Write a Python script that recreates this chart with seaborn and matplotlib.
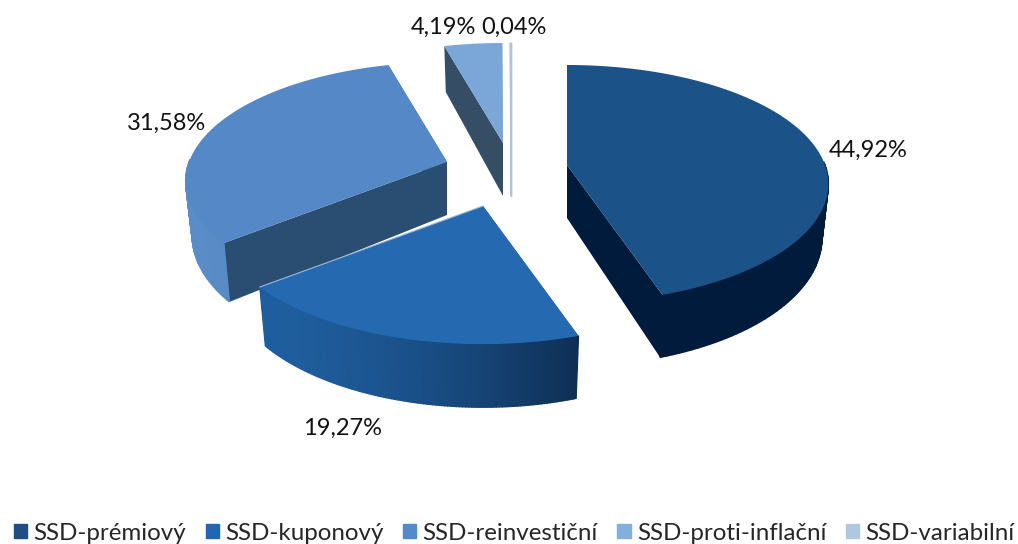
import numpy as np
import matplotlib
matplotlib.use("Agg")
import matplotlib.pyplot as plt
from matplotlib.patches import Patch
import seaborn as sns

categories = ["SSD-prémiový", "SSD-kuponový", "SSD-reinvestiční", "SSD-proti-inflační", "SSD-variabilní"]
shares = [44.92, 19.27, 31.58, 4.19, 0.04]
labels = ["44,92%", "19,27%", "31,58%", "4,19%", "0,04%"]

# layout, all in pixels of the 1018x544 picture
CX, CY = 500, 165
RX, RY = 258, 116
PERSP = 0.16
DEPTH = 53
BOTTOM_SHRINK = 0.975
explode_dx = [67, -17, -53, 3, 11]
explode_dy = [0, 41, -3, -22, -22]
label_x = [868, 343, 167, 443, 514]
label_y = [150, 428, 123, 27, 27]
draw_order = [3, 4, 2, 0, 1]

top_colors = ["#1B5288", "#256AB1", "#5588C6", "#7BA6D8", "#AEC4DE"]
wall_colors = ["#011B3C", "#123F72", "#2A4E72", "#364D66", "#AEC4DE"]
rim_left = ["#011B3C", "#1F5E9E", "#5A8CC8", "#7BA6D8", "#AEC4DE"]
rim_right = ["#011B3C", "#0E2F55", "#4273AC", "#7BA6D8", "#AEC4DE"]
legend_colors = ["#1F4E86", "#2166B0", "#5489CB", "#84AEDC", "#B0C7E0"]

sns.set_theme(style="white")
plt.rcParams["font.family"] = ["Lato", "DejaVu Sans"]


def project(theta, ax0, ay0, low=False):
    # unit circle point -> picture, with a bit of perspective
    X, Y = np.cos(theta), np.sin(theta)
    d = 1 + PERSP * Y
    x = X * RX / d
    y = -Y * RY / d
    if low:
        return ax0 + x * BOTTOM_SHRINK, ay0 + y + DEPTH / d
    return ax0 + x, ay0 + y


fig = plt.figure(figsize=(10.18, 5.44), dpi=100)
ax = fig.add_axes([0, 0, 1, 1])
ax.set_xlim(0, 1018)
ax.set_ylim(544, 0)
ax.axis("off")

fracs = np.array(shares) / sum(shares)
ends = np.pi / 2 - 2 * np.pi * np.cumsum(fracs)
starts = np.r_[np.pi / 2, ends[:-1]]

for i in draw_order:
    ax0, ay0 = CX + explode_dx[i], CY + explode_dy[i]
    th = np.linspace(starts[i], ends[i], 120)
    xt, yt = project(th, ax0, ay0)
    xb, yb = project(th, ax0, ay0, low=True)
    lw = 1 if shares[i] < 1 else 0

    # radial walls go first, the top and the rim hide what faces away
    for k in (0, -1):
        ax.fill([ax0, xt[k], xb[k], ax0], [ay0, yt[k], yb[k], ay0 + DEPTH],
                color=wall_colors[i], lw=lw)

    ramp = sns.blend_palette([rim_left[i], rim_right[i]], 119)
    seen = np.sin(th) <= 0.02
    if seen.any():
        ax.fill(np.r_[xt[seen], xb[seen][::-1]], np.r_[yt[seen], yb[seen][::-1]],
                color=ramp[60], lw=0)
    for j in range(len(th) - 1):
        if not (seen[j] or seen[j + 1]):
            continue
        shade = (xt[j] - xt.min()) / max(xt.max() - xt.min(), 1)
        ax.fill([xt[j], xt[j + 1], xb[j + 1], xb[j]], [yt[j], yt[j + 1], yb[j + 1], yb[j]],
                color=ramp[int(shade ** 1.6 * 118)], lw=1)

    ax.fill(np.r_[ax0, xt], np.r_[ay0, yt], color=top_colors[i], lw=lw)
    if i == 1:
        # thin light edge on the side next to the reinvestment slice
        ax.plot([ax0, xt[-1]], [ay0, yt[-1]], color="#9DBAD8", lw=0.8)

for txt, x, y in zip(labels, label_x, label_y):
    ax.text(x, y, txt, ha="center", va="center", fontsize=17, color="#111111")

handles = [Patch(color=c, label=n) for c, n in zip(legend_colors, categories)]
ax.legend(handles=handles, ncol=5, loc="lower center", bbox_to_anchor=(0.505, -0.008), frameon=False,
          fontsize=17.4, handlelength=0.55, handleheight=0.55, handletextpad=0.25, columnspacing=0.82,
          borderpad=0.2, borderaxespad=0)

fig.savefig("out.png", dpi=100)
plt.close(fig)
